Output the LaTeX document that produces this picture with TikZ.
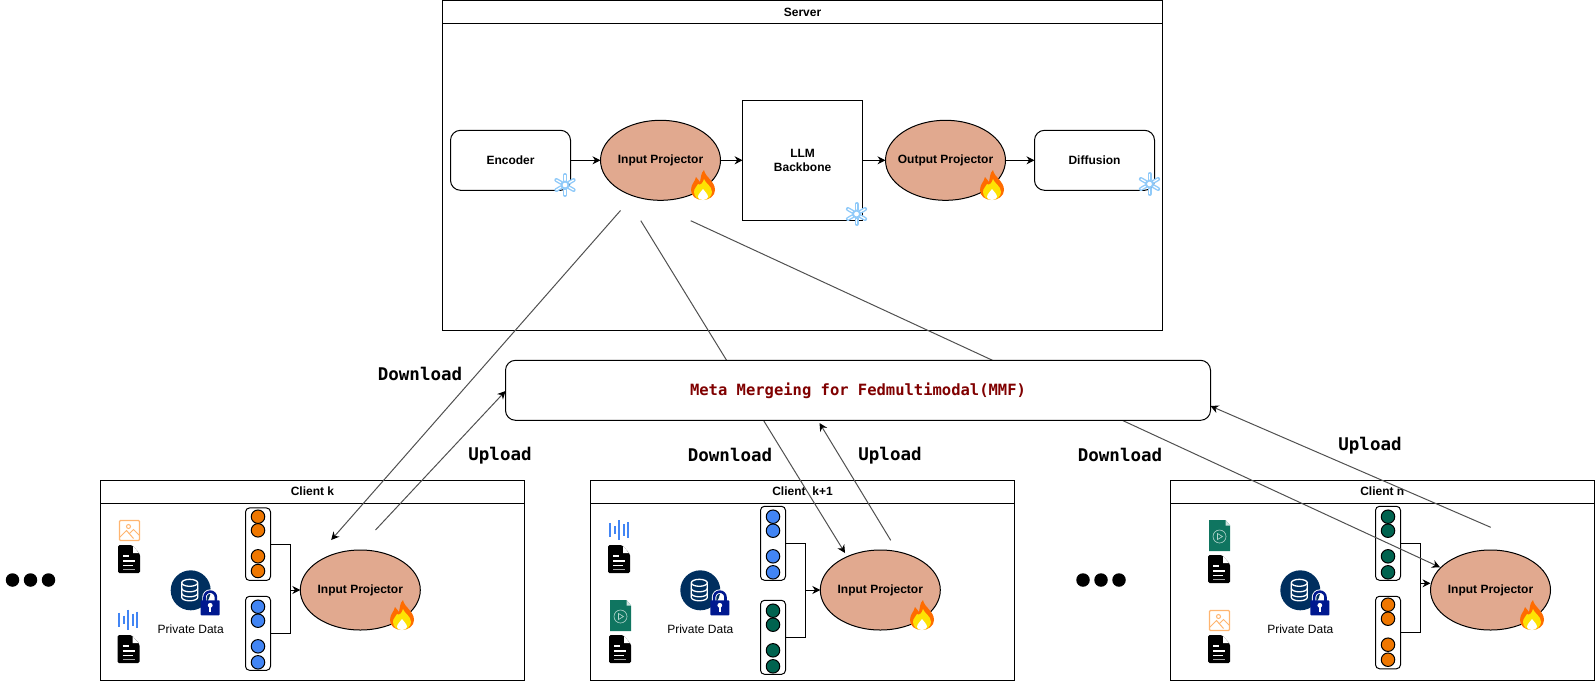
\documentclass[tikz,border=0pt]{standalone}
\usepackage{fontspec}
\setmainfont{Liberation Sans}
\setmonofont{DejaVu Sans Mono}
\usetikzlibrary{shapes.geometric,arrows.meta}

\definecolor{projcol}{HTML}{E1A98F}
\definecolor{orangedot}{HTML}{EF7700}
\definecolor{bluedot}{HTML}{4285F4}
\definecolor{greendot}{HTML}{00634F}
\definecolor{imgcol}{HTML}{FFB570}
\definecolor{videocol}{HTML}{0F7560}
\definecolor{dbcol}{HTML}{002F5F}
\definecolor{lockcol}{HTML}{00188F}
\definecolor{snowcol}{HTML}{90CAF9}
\definecolor{linkcol}{HTML}{505050}
\definecolor{mmfcol}{HTML}{800000}

\tikzset{
  docicon/.pic={
    \fill[black,rounded corners=1.5] (-11,-14) -- (3,-14) -- (11,-5) -- (11,14) -- (-11,14) -- cycle;
    \fill[white] (4,-13) -- (10,-6) -- (4,-6) -- cycle;
    \draw[white,line width=1.4] (-6,-3) -- (0,-3) (-6,2) -- (6,2) (-6,6.5) -- (4,6.5);
    \draw[gray!70,line width=1.4] (-6,10.5) -- (6,10.5);
  },
  imgicon/.pic={
    \draw[imgcol,line width=1.2,rounded corners=1] (-10,-10) rectangle (10,10);
    \draw[imgcol] (-10,7) -- (-3,0) -- (4,8) (0,3) -- (4,-1) -- (10,5);
    \draw[imgcol] (-1,-4) circle (2);
  },
  waveicon/.pic={
    \foreach \x/\h in {-9/7,-4.5/4,0/10,4.5/6,9/8}
      \draw[bluedot,line width=2] (\x,-\h) -- (\x,\h);
  },
  videoicon/.pic={
    \fill[videocol] (-10.5,-15.5) -- (6,-15.5) -- (10.5,-10) -- (10.5,15.5) -- (-10.5,15.5) -- cycle;
    \fill[white!80!videocol] (6,-15.5) -- (10.5,-10) -- (6,-10) -- cycle;
    \draw[white!70!videocol,line width=.6] (0,1) circle (6.5);
    \draw[white!70!videocol,line width=.6] (-2,-2) -- (3,1) -- (-2,4) -- cycle;
  },
  dbicon/.pic={
    \fill[dbcol] (0,0) circle (20);
    \draw[white,line width=1.3] (-9,-7) -- (-9,7) arc[start angle=180,end angle=0,x radius=8,y radius=3.5] -- (7,-7);
    \draw[white,line width=1.3] (-1,-7.5) ellipse (8 and 3.5);
    \draw[white,line width=1.3] (-9,-2) arc[start angle=180,end angle=0,x radius=8,y radius=3.5];
    \draw[white,line width=1.3] (-9,3) arc[start angle=180,end angle=0,x radius=8,y radius=3.5];
    \draw[white,line width=4.4] (13.8,11) -- (13.8,7) arc[start angle=180,end angle=360,radius=5.7] -- (25.2,11);
    \draw[lockcol,line width=2.6] (13.8,11) -- (13.8,7) arc[start angle=180,end angle=360,radius=5.7] -- (25.2,11);
    \fill[lockcol,rounded corners=.8] (10,10) rectangle (29,25);
    \fill[white] (19.5,15) circle (2.4);
    \fill[white] (18.4,15.5) rectangle (20.6,22);
  },
  fire/.pic={
    \fill[orange!85!red] (1,-15) .. controls (2,-8) and (12,-4) .. (12,5) .. controls (12,11) and (6,15) .. (0,15)
      .. controls (-7,15) and (-12,11) .. (-12,5) .. controls (-12,-1) and (-8,-3) .. (-7,-8)
      .. controls (-5,-6) and (-4,-4) .. (-3,-3) .. controls (-2,-8) and (-2,-12) .. (1,-15) -- cycle;
    \fill[yellow!85!orange] (1,-6) .. controls (2,-2) and (9,1) .. (9,7) .. controls (9,12) and (4,15) .. (0,15)
      .. controls (-5,15) and (-9,12) .. (-9,7) .. controls (-9,3) and (-6,2) .. (-5,-1)
      .. controls (-3,1) and (0,-2) .. (1,-6) -- cycle;
    \fill[white] (0,4) .. controls (2,7) and (5,9) .. (5,12) .. controls (5,14) and (2,15) .. (0,15)
      .. controls (-3,15) and (-5,14) .. (-5,12) .. controls (-5,9) and (-2,7) .. (0,4) -- cycle;
  },
  snow/.pic={
    \foreach \a in {30,90,150,210,270,330} {
      \draw[snowcol,line width=4,line cap=round,rotate=\a] (4.5,0) -- (10,0);
      \draw[white,line width=1.2,rotate=\a] (4.5,0) -- (10,0);
    }
    \draw[snowcol,line width=1.8] (0,0) circle (3.5);
  }
}

\begin{document}
\begin{tikzpicture}[x=1pt,y=-1pt,line width=1pt,
    lane/.style = {draw, anchor=north west, inner sep=0pt, outer sep=0pt},
    lanehead/.style = {draw, anchor=north west, inner sep=0pt, outer sep=0pt, font=\fontsize{12}{14}\selectfont\bfseries},
    roundbox/.style = {draw, rounded corners=10, fill=white, minimum width=120, minimum height=60, inner sep=0pt, outer sep=0pt, font=\fontsize{12}{14}\selectfont\bfseries},
    proj/.style = {draw, ellipse, fill=projcol, minimum width=120, minimum height=80, inner sep=0pt, outer sep=0pt, font=\fontsize{12}{14}\selectfont\bfseries},
    strip/.style = {draw, rounded corners=4, fill=white, minimum width=25, inner sep=0pt, outer sep=0pt},
    dot/.style = {draw, circle, minimum size=13.5, inner sep=0pt},
    bigdot/.style = {circle, fill=black, minimum size=13.5, inner sep=0pt},
    link/.style = {draw=linkcol},
    arr/.style = {-{Stealth[length=8,width=8,color=black]}},
    lbl/.style = {inner sep=0pt, font=\fontsize{17.5}{20}\selectfont\ttfamily\bfseries},
    caption/.style = {inner sep=0pt, font=\fontsize{12}{14}\selectfont}]

    \useasboundingbox (0,0) rectangle (1595,681);

    % server
    \node[lane, minimum width=720, minimum height=330] (server) at (442.5,0.5) {};
    \node[lanehead, minimum width=720, minimum height=23] (servertitle) at (442.5,0.5) {Server};
    \node[roundbox] (encoder) at (510.5,160.3) {Encoder};
    \node[proj] (inproj) at (660.5,160.3) {\makebox[80pt]{Input Projector}};
    \node[draw, align=center, minimum size=120, inner sep=0pt, outer sep=0pt, font=\fontsize{12}{14}\selectfont\bfseries] (llm) at (802.6,160.3) {LLM\\Backbone};
    \node[proj] (outproj) at (945.5,160.3) {\makebox[80pt]{Output Projector}};
    \node[roundbox] (diffusion) at (1094.5,160.3) {Diffusion};
    \draw[arr] (encoder) -- (inproj);
    \draw[arr] (inproj) -- (llm);
    \draw[arr] (llm) -- (outproj);
    \draw[arr] (outproj) -- (diffusion);

    % client k
    \node[lane, minimum width=424, minimum height=200] (clientk) at (100.5,480) {};
    \node[lanehead, minimum width=424, minimum height=23] (clientktitle) at (100.5,480) {Client k};
    \node[proj] (projk) at (360.3,590) {\makebox[80pt]{Input Projector}};
    \node[strip, minimum height=72.5] (stripka) at (258,544.2) {};
    \node[strip, minimum height=74] (stripkb) at (258,633.3) {};
    \foreach \y [count=\i] in {516.7,530.3,556.3,571}
        \node[dot, fill=orangedot] (ka\i) at (258,\y) {};
    \foreach \y [count=\i] in {606.7,620.7,646.3,662.3}
        \node[dot, fill=bluedot] (kb\i) at (258,\y) {};
    \coordinate (busk) at (290.3,590);
    \draw (stripka.east) -| (busk) |- (stripkb.east);
    \draw[arr] (busk) -- (projk);
    \pic at (129.5,530.5) {imgicon};
    \pic at (129,559) {docicon};
    \pic at (128,619.5) {waveicon};
    \pic at (128.5,649) {docicon};
    \pic at (190.7,590.3) {dbicon};
    \node[caption] (datak) at (190.7,629.3) {Private Data};

    % client k+1
    \node[lane, minimum width=424, minimum height=200] (clientl) at (590.5,480) {};
    \node[lanehead, minimum width=424, minimum height=23] (clientltitle) at (590.5,480) {Client~~k+1};
    \node[proj] (projl) at (880.3,590) {\makebox[80pt]{Input Projector}};
    \node[strip, minimum height=74] (stripla) at (773,543.3) {};
    \node[strip, minimum height=74] (striplb) at (773,637.3) {};
    \foreach \y [count=\i] in {516.7,530.7,556.3,572.3}
        \node[dot, fill=bluedot] (la\i) at (773,\y) {};
    \foreach \y [count=\i] in {610.7,624.7,650.3,666.3}
        \node[dot, fill=greendot] (lb\i) at (773,\y) {};
    \coordinate (busl) at (805.7,590);
    \draw (stripla.east) -| (busl) |- (striplb.east);
    \draw[arr] (busl) -- (projl);
    \pic at (619,530) {waveicon};
    \pic at (619,559) {docicon};
    \pic at (620.5,615.5) {videoicon};
    \pic at (620,649) {docicon};
    \pic at (700.3,590.3) {dbicon};
    \node[caption] (datal) at (700.3,629.3) {Private Data};

    % client n
    \node[lane, minimum width=424.5, minimum height=200] (clientn) at (1170,480) {};
    \node[lanehead, minimum width=424.5, minimum height=23] (clientntitle) at (1170,480) {Client n};
    \node[proj] (projn) at (1490.5,590) {\makebox[80pt]{Input Projector}};
    \node[strip, minimum height=74] (stripna) at (1388,543.3) {};
    \node[strip, minimum height=72.5] (stripnb) at (1388,632.5) {};
    \foreach \y [count=\i] in {516.7,530.7,556.3,572.3}
        \node[dot, fill=greendot] (na\i) at (1388,\y) {};
    \foreach \y [count=\i] in {604.7,618.7,644.7,659.7}
        \node[dot, fill=orangedot] (nb\i) at (1388,\y) {};
    \coordinate (busn) at (1420.3,583.3);
    \draw (stripna.east) -| (busn) |- (stripnb.east);
    \draw[arr] (busn) -- (busn -| projn.west);
    \pic at (1219.5,535.5) {videoicon};
    \pic at (1219,569) {docicon};
    \pic at (1219.5,620.5) {imgicon};
    \pic at (1219,649) {docicon};
    \pic at (1300.3,590.3) {dbicon};
    \node[caption] (datan) at (1300.3,629.3) {Private Data};

    % links
    \coordinate (downka) at (620.5,210.5);
    \coordinate (downkb) at (331.2,540);
    \coordinate (upka) at (375.5,530);
    \coordinate (upkb) at (505.5,391);
    \coordinate (downla) at (640.8,220.7);
    \coordinate (downlb) at (845,553);
    \coordinate (upla) at (890.7,540.3);
    \coordinate (uplb) at (819.5,423);
    \coordinate (downna) at (690.7,220.7);
    \coordinate (downnb) at (1440,567.3);
    \coordinate (upna) at (1490.7,527.3);
    \coordinate (upnb) at (1210.5,406);
    \draw[link, arr] (downka) -- (downkb);
    \draw[link, arr] (downla) -- (downlb);
    \draw[link, arr] (downna) -- (downnb);
    \draw[link, arr] (upka) -- (upkb);
    \draw[link, arr] (upla) -- (uplb);
    \draw[link, arr] (upna) -- (upnb);

    \node[roundbox, minimum width=705, text=mmfcol, font=\fontsize{15.5}{18}\selectfont\ttfamily\bfseries] (mmf) at (858,390.3) {\raisebox{-2pt}{Meta Mergeing for Fedmultimodal(MMF)}};

    \node[lbl] (dlk) at (420,374) {Download};
    \node[lbl] (ulk) at (500,456) {Upload};
    \node[lbl] (dll) at (730,454.5) {Download};
    \node[lbl] (ull) at (890,456) {Upload};
    \node[lbl] (dln) at (1120,454.5) {Download};
    \node[lbl] (uln) at (1370,445.5) {Upload};

    \node[bigdot] (dota) at (12.5,580) {};
    \node[bigdot] (dotb) at (30.5,580) {};
    \node[bigdot] (dotc) at (48.5,580) {};
    \node[bigdot] (dotd) at (1083,580) {};
    \node[bigdot] (dote) at (1101,580) {};
    \node[bigdot] (dotf) at (1119,580) {};

    % fire and snow marks
    \pic at (703,185) {fire};
    \pic at (992,185) {fire};
    \pic at (402,615) {fire};
    \pic at (922,615) {fire};
    \pic at (1532,615) {fire};
    \pic at (565,185) {snow};
    \pic at (856.5,214) {snow};
    \pic at (1149.5,184) {snow};
\end{tikzpicture}
\end{document}
